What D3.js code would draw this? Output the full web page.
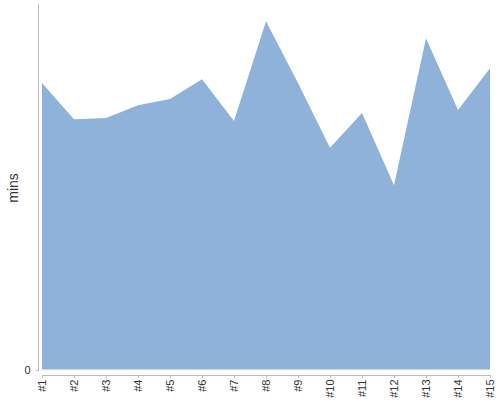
<!DOCTYPE html>
<html>
<head>
<meta charset="utf-8">
<script src="https://cdn.jsdelivr.net/npm/d3@7"></script>
<style>
  body { margin: 0; background: #fff; }
  svg { font-family: "Liberation Sans", Arial, sans-serif; }
  .axis path, .axis line { stroke: #bbb; shape-rendering: crispEdges; }
  .axis text { fill: #333; font-size: 11px; }
</style>
</head>
<body>
<svg id="chart" width="500" height="400"></svg>
<script>
const categories = ['#1', '#2', '#3', '#4', '#5', '#6', '#7', '#8', '#9', '#10', '#11', '#12', '#13', '#14', '#15']
const minutes = [78.4, 68.5, 68.8, 72.3, 74.0, 79.4, 68.0, 95.3, 78.4, 60.7, 70.2, 50.4, 90.6, 71.0, 82.4]
const yTicks = [0]

const svg = d3.select('#chart')

const x = d3.scalePoint()
  .domain(categories)
  .range([42, 490])

const y = d3.scaleLinear()
  .domain([0, 100])
  .range([369.5, 4])

const data = categories.map((c, i) => ({ label: c, value: minutes[i] }))

const area = d3.area()
  .x(d => x(d.label))
  .y0(y(0))
  .y1(d => y(d.value))

svg.append('path')
  .datum(data)
  .attr('d', area)
  .attr('fill', '#8fb2db')

// y axis
const yAxis = svg.append('g')
  .attr('class', 'axis')
  .attr('transform', 'translate(38.5,0)')
  .call(d3.axisLeft(y).tickValues(yTicks).tickSize(3).tickSizeOuter(0))
yAxis.selectAll('text').attr('font-size', 12).attr('dx', '-2')
yAxis.select('.domain').attr('d', 'M0,4V370')

// x axis
const xAxis = svg.append('g')
  .attr('class', 'axis')
  .attr('transform', 'translate(0,374.5)')
  .call(d3.axisBottom(x).tickSize(3).tickSizeOuter(0))
xAxis.selectAll('text')
  .attr('transform', 'rotate(-90)')
  .attr('text-anchor', 'end')
  .attr('x', -5)
  .attr('y', 0)
  .attr('dy', '0.35em')
  .attr('font-size', 10)

svg.append('text')
  .attr('transform', 'translate(18,188) rotate(-90)')
  .attr('text-anchor', 'middle')
  .attr('font-size', 14)
  .attr('fill', '#333')
  .text('mins')
</script>
</body>
</html>
